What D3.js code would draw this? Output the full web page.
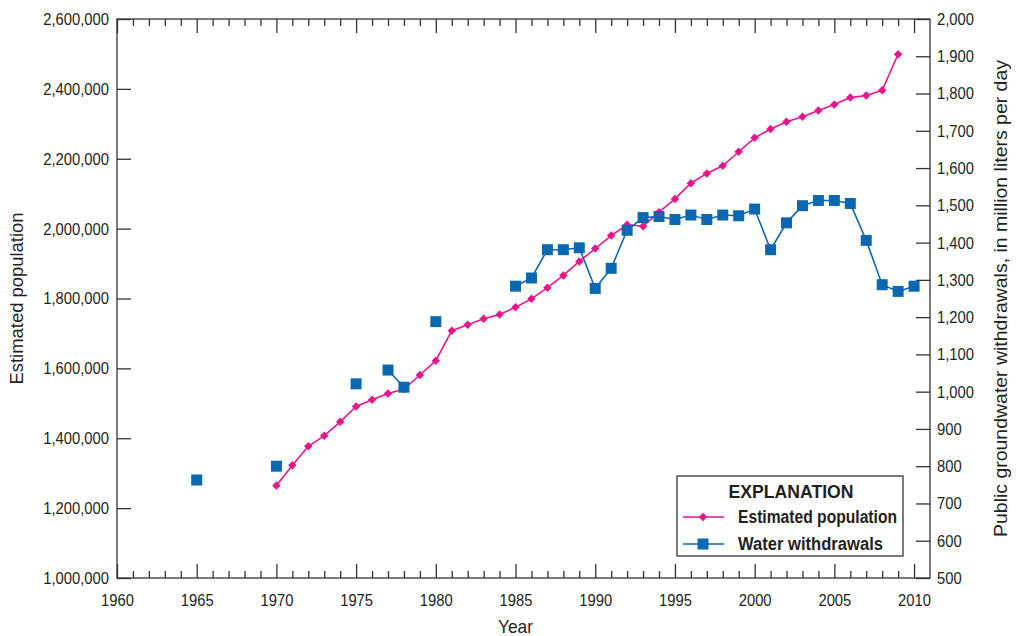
<!DOCTYPE html>
<html>
<head>
<meta charset="utf-8">
<script src="https://cdn.jsdelivr.net/npm/d3@7"></script>
<style>
  body { margin: 0; background: #fff; }
  svg { display: block; font-family: 'Liberation Sans', Arial, sans-serif; }
  .axis path, .axis line { stroke: #333; }
  .axis text { fill: #231f20; font-size: 17px; font-family: 'Liberation Sans', Arial, sans-serif; }
</style>
</head>
<body>
<div class="chart-container"></div>
<script>
// population, one value per year 1970-2009
const popYears = d3.range(1970, 2010);
const popValues = [
  1265000, 1323000, 1377000, 1407000, 1447000, 1491000, 1510000, 1528000, 1541000, 1581000,
  1622000, 1708000, 1725000, 1742000, 1754000, 1775000, 1799000, 1831000, 1866000, 1906000,
  1943000, 1980000, 2011000, 2007000, 2047000, 2085000, 2130000, 2158000, 2180000, 2220000,
  2260000, 2285000, 2306000, 2320000, 2338000, 2355000, 2375000, 2381000, 2396000, 2499000
];

// public groundwater withdrawals, million liters per day
const waterYears = [1965, 1970, 1975, 1977, 1978, 1980,
  1985, 1986, 1987, 1988, 1989, 1990, 1991, 1992, 1993, 1994, 1995, 1996, 1997,
  1998, 1999, 2000, 2001, 2002, 2003, 2004, 2005, 2006, 2007, 2008, 2009, 2010];
const waterValues = [763, 800, 1021, 1058, 1012, 1188,
  1283, 1305, 1381, 1381, 1386, 1277, 1331, 1433, 1467, 1470, 1462, 1474, 1462,
  1474, 1472, 1490, 1381, 1453, 1499, 1513, 1513, 1505, 1406, 1287, 1269, 1283];

const yearTicks = d3.range(1960, 2011, 5);
const popTicks = d3.range(1000000, 2600001, 200000);
const waterTicks = d3.range(500, 2001, 100);

const pink = '#e8168b';
const blue = '#0a67b2';

const margin = { top: 19, right: 86, bottom: 58, left: 117 };
const width = 1016 - margin.left - margin.right;
const height = 636 - margin.top - margin.bottom;

// squeeze text horizontally to get a condensed face
function condense(sel, k) {
  sel.each(function () {
    const w = this.getComputedTextLength();
    d3.select(this).attr('textLength', w * k).attr('lengthAdjust', 'spacingAndGlyphs');
  });
}
function fitText(sel, w) {
  sel.attr('textLength', w).attr('lengthAdjust', 'spacingAndGlyphs');
}

// scales
const xScale = d3.scaleLinear().domain([1960, 2011]).range([0, width]);
const yPop = d3.scaleLinear().domain([1000000, 2600000]).range([height, 0]);
const yWater = d3.scaleLinear().domain([500, 2000]).range([height, 0]);

const svg = d3.select('.chart-container')
  .append('svg')
  .attr('width', 1016)
  .attr('height', 636)
  .append('g')
  .attr('transform', `translate(${margin.left}, ${margin.top})`);

// frame
svg.append('rect')
  .attr('width', width)
  .attr('height', height)
  .attr('fill', 'none')
  .attr('stroke', '#333')
  .attr('stroke-width', 1.3);

// minor year ticks, top and bottom, pointing inward
const minorYears = d3.range(1961, 2011).filter(y => y % 5 !== 0);
svg.append('g').attr('class', 'x axis minor')
  .attr('transform', `translate(0, ${height})`)
  .call(d3.axisBottom(xScale).tickValues(minorYears).tickSize(-7).tickFormat(''))
  .call(g => g.select('.domain').remove());
svg.append('g').attr('class', 'x axis minor')
  .call(d3.axisTop(xScale).tickValues(minorYears).tickSize(-7).tickFormat(''))
  .call(g => g.select('.domain').remove());

// major year ticks
svg.append('g').attr('class', 'x axis')
  .attr('transform', `translate(0, ${height})`)
  .call(d3.axisBottom(xScale).tickValues(yearTicks).tickSize(-14).tickPadding(16).tickFormat(d3.format('d')))
  .call(g => g.select('.domain').remove());
svg.append('g').attr('class', 'x axis')
  .call(d3.axisTop(xScale).tickValues(yearTicks).tickSize(-14).tickFormat(''))
  .call(g => g.select('.domain').remove());

// left axis
svg.append('g').attr('class', 'y axis')
  .call(d3.axisLeft(yPop).tickValues(popTicks).tickSize(-14).tickPadding(8).tickFormat(d3.format(',')))
  .call(g => g.select('.domain').remove());

// right axis
svg.append('g').attr('class', 'y axis')
  .attr('transform', `translate(${width}, 0)`)
  .call(d3.axisRight(yWater).tickValues(waterTicks).tickSize(-14).tickPadding(7).tickFormat(d3.format(',')))
  .call(g => g.select('.domain').remove());

svg.selectAll('.axis line').attr('stroke-width', 1.3);
svg.selectAll('.axis text').call(condense, 0.87);

// axis titles
svg.append('text')
  .attr('transform', `translate(${-94}, ${height / 2}) rotate(-90)`)
  .attr('text-anchor', 'middle')
  .attr('font-size', 19)
  .attr('fill', '#231f20')
  .text('Estimated population')
  .call(fitText, 172);

svg.append('text')
  .attr('transform', `translate(${width + 77}, ${height / 2}) rotate(-90)`)
  .attr('text-anchor', 'middle')
  .attr('font-size', 19)
  .attr('fill', '#231f20')
  .text('Public groundwater withdrawals, in million liters per day')
  .call(fitText, 477);

svg.append('text')
  .attr('x', xScale(1985))
  .attr('y', height + 55)
  .attr('text-anchor', 'middle')
  .attr('font-size', 19)
  .attr('fill', '#231f20')
  .text('Year')
  .call(fitText, 35);

// population line
const popData = popYears.map((y, i) => ({ year: y, value: popValues[i] }));
svg.append('path')
  .datum(popData)
  .attr('fill', 'none')
  .attr('stroke', pink)
  .attr('stroke-width', 1.6)
  .attr('d', d3.line().x(d => xScale(d.year)).y(d => yPop(d.value)));

// water line, broken where years are missing
const waterData = waterYears.map((y, i) => ({ year: y, value: waterValues[i] }));
const waterLine = d3.line().x(d => xScale(d.year)).y(d => yWater(d.value));
const segments = [];
waterData.forEach((d, i) => {
  if (i === 0 || d.year - waterData[i - 1].year > 1) segments.push([]);
  segments[segments.length - 1].push(d);
});
svg.append('g')
  .selectAll('path')
  .data(segments.filter(s => s.length > 1))
  .join('path')
  .attr('fill', 'none')
  .attr('stroke', blue)
  .attr('stroke-width', 1.6)
  .attr('d', waterLine);

const diamond = d3.symbol().type(d3.symbolDiamond2).size(46);
const square = d3.symbol().type(d3.symbolSquare).size(121);

svg.append('g')
  .selectAll('path')
  .data(popData)
  .join('path')
  .attr('transform', d => `translate(${xScale(d.year)}, ${yPop(d.value)})`)
  .attr('d', diamond)
  .attr('fill', pink);

svg.append('g')
  .selectAll('path')
  .data(waterData)
  .join('path')
  .attr('transform', d => `translate(${xScale(d.year)}, ${yWater(d.value)})`)
  .attr('d', square)
  .attr('fill', blue);

// legend
const legend = svg.append('g')
  .attr('transform', `translate(${677 - margin.left}, ${476 - margin.top})`);

legend.append('rect')
  .attr('width', 226)
  .attr('height', 80)
  .attr('fill', '#fff')
  .attr('stroke', '#333')
  .attr('stroke-width', 1.3);

legend.append('text')
  .attr('x', 114)
  .attr('y', 22)
  .attr('text-anchor', 'middle')
  .attr('font-size', 19)
  .attr('font-weight', 'bold')
  .attr('fill', '#231f20')
  .text('EXPLANATION')
  .call(fitText, 125);

const items = [
  { label: 'Estimated population', color: pink, symbol: diamond, w: 159 },
  { label: 'Water withdrawals', color: blue, symbol: square, w: 145 }
];

const rows = legend.selectAll('.item')
  .data(items)
  .join('g')
  .attr('class', 'item')
  .attr('transform', (d, i) => `translate(0, ${41 + i * 27})`);

rows.append('line')
  .attr('x1', 6).attr('x2', 47)
  .attr('stroke', d => d.color)
  .attr('stroke-width', 1.6);

rows.append('path')
  .attr('transform', 'translate(26, 0)')
  .attr('d', d => d.symbol())
  .attr('fill', d => d.color);

rows.append('text')
  .attr('x', 61)
  .attr('y', 6)
  .attr('font-size', 18)
  .attr('font-weight', 'bold')
  .attr('fill', '#231f20')
  .text(d => d.label)
  .each(function (d) { d3.select(this).call(fitText, d.w); });
</script>
</body>
</html>
